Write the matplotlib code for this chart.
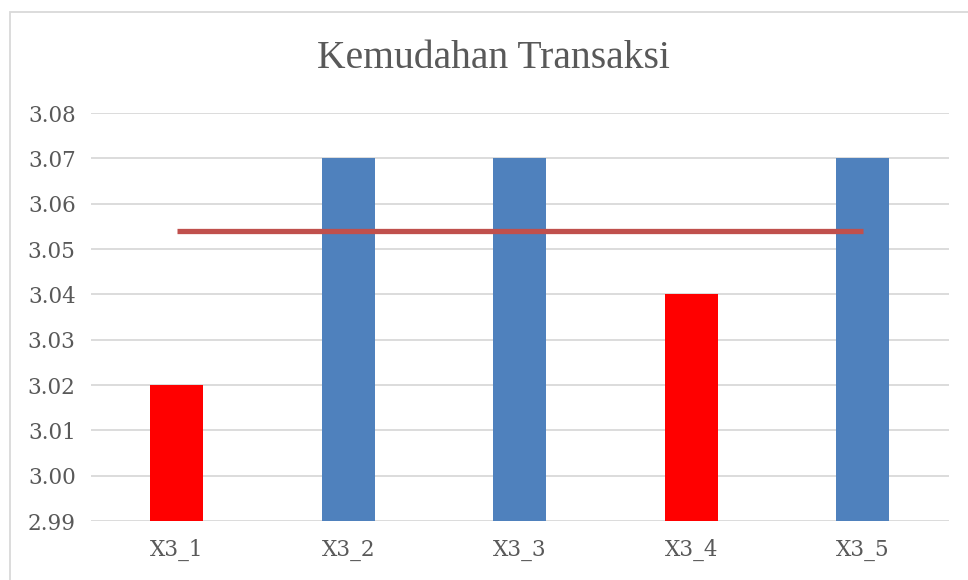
import matplotlib.pyplot as plt
import matplotlib.patches as patches
import numpy as np

kategori = ['X3_1', 'X3_2', 'X3_3', 'X3_4', 'X3_5']
nilai = [3.02, 3.07, 3.07, 3.04, 3.07]
warna = ['#FF0000', '#4F81BD', '#4F81BD', '#FF0000', '#4F81BD']
rata = [3.054] * 5
yticks = [2.99, 3.00, 3.01, 3.02, 3.03, 3.04, 3.05, 3.06, 3.07, 3.08]

plt.rcParams['font.family'] = ['DejaVu Serif']

fig = plt.figure(figsize=(9.68, 5.80), dpi=100)
ax = fig.add_axes([0.094, 0.1017, 0.886, 0.7033])

x = np.arange(len(kategori))
ax.bar(x, [v - 2.99 for v in nilai], bottom=2.99, width=0.31, color=warna, zorder=3)
ax.plot(x, rata, color='#C0504D', linewidth=3.8, solid_capstyle='butt', zorder=4)

ax.set_xlim(-0.5, len(kategori) - 0.5)
ax.set_ylim(2.99, 3.08)
ax.set_yticks(yticks)
ax.set_yticklabels(['%.2f' % t for t in yticks])
ax.set_xticks(x)
ax.set_xticklabels(kategori)
ax.grid(axis='y', color='#D9D9D9', linewidth=1.3, zorder=0)
ax.tick_params(length=0, labelsize=15.5, colors='#595959')
ax.tick_params(axis='x', pad=13)
ax.tick_params(axis='y', pad=11)
for s in ax.spines.values():
    s.set_visible(False)

fig.text(0.51, 0.9, 'Kemudahan Transaksi', ha='center', va='center',
         fontsize=28.5, color='#595959', family='Liberation Serif')

# chart border
fig.patches.append(patches.Rectangle((10 / 968, -0.1), 1.2, 1 - 12 / 580 + 0.1,
                                     transform=fig.transFigure, fill=False,
                                     edgecolor='#D9D9D9', linewidth=1.3))

plt.savefig('out.png', dpi=100)
